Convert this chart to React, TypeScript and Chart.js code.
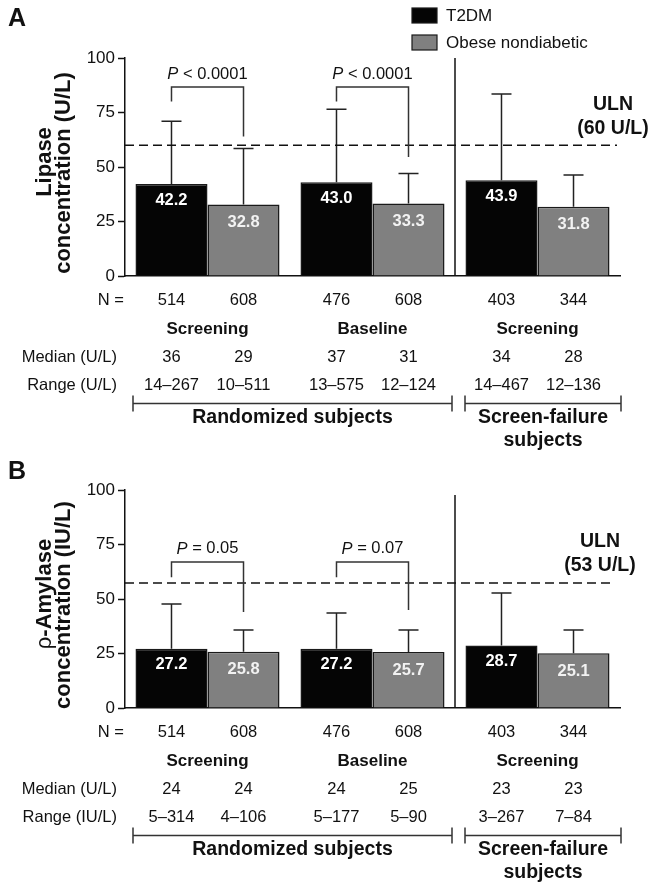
import React, { useEffect, useRef } from 'react';
import { Chart, registerables } from 'chart.js';

Chart.register(...registerables);

// ---------- shared data ----------
const categories = ['Screening', 'Baseline', 'Screening'];
const seriesNames = ['T2DM', 'Obese nondiabetic'];
const groupLabels = [['Randomized subjects'], ['Screen-failure', 'subjects']];
const nValues = ['514', '608', '476', '608', '403', '344'];

// ---------- panel A: lipase ----------
const lipaseT2DM = [42.2, 43.0, 43.9];
const lipaseObese = [32.8, 33.3, 31.8];
const lipaseT2DMErrTop = [71.0, 76.5, 83.5];
const lipaseObeseErrTop = [58.5, 47.0, 46.3];
const lipaseULN = 60;
const lipaseULNLabel = ['ULN', '(60 U/L)'];
const lipasePTexts = ['< 0.0001', '< 0.0001'];
const lipaseBracketTop = [86.7, 86.7];
const lipaseBracketLeftEnd = [80, 80];
const lipaseBracketRightEnd = [64, 54.6];
const lipaseMedian = ['36', '29', '37', '31', '34', '28'];
const lipaseRange = ['14–267', '10–511', '13–575', '12–124', '14–467', '12–136'];

// ---------- panel B: p-amylase ----------
const amylaseT2DM = [27.2, 27.2, 28.7];
const amylaseObese = [25.8, 25.7, 25.1];
const amylaseT2DMErrTop = [47.7, 43.6, 52.8];
const amylaseObeseErrTop = [35.8, 35.8, 35.8];
const amylaseULN = 57.3;
const amylaseULNLabel = ['ULN', '(53 U/L)'];
const amylasePTexts = ['= 0.05', '= 0.07'];
const amylaseBracketTop = [67, 67];
const amylaseBracketLeftEnd = [60, 60];
const amylaseBracketRightEnd = [44, 45];
const amylaseMedian = ['24', '24', '24', '25', '23', '23'];
const amylaseRange = ['5–314', '4–106', '5–177', '5–90', '3–267', '7–84'];

const FONT = '"Liberation Sans", Arial, Helvetica, sans-serif';
const INK = '#111111';
const BLACK_BAR = '#050505';
const GRAY_BAR = '#808080';
const BAR_EDGE = '#1a1a1a';

type Panel = {
  letter: string;
  titleLines: { parts: { text: string; bold: boolean }[] }[];
  t2dm: number[];
  obese: number[];
  t2dmErr: number[];
  obeseErr: number[];
  uln: number;
  ulnLabel: string[];
  ulnLabelX: number;
  ulnEndX: number;
  pTexts: string[];
  bTop: number[];
  bLeft: number[];
  bRight: number[];
  median: string[];
  range: string[];
  rangeLabel: string;
  legend: boolean;
  height: number;
  padTop: number;
  padBottom: number;
  letterY: number;
  sepTopValue: number;
};

const panels: Panel[] = [
  {
    letter: 'A',
    titleLines: [
      { parts: [{ text: 'Lipase', bold: true }] },
      { parts: [{ text: 'concentration (U/L)', bold: true }] },
    ],
    t2dm: lipaseT2DM,
    obese: lipaseObese,
    t2dmErr: lipaseT2DMErrTop,
    obeseErr: lipaseObeseErrTop,
    uln: lipaseULN,
    ulnLabel: lipaseULNLabel,
    ulnLabelX: 613,
    ulnEndX: 617,
    pTexts: lipasePTexts,
    bTop: lipaseBracketTop,
    bLeft: lipaseBracketLeftEnd,
    bRight: lipaseBracketRightEnd,
    median: lipaseMedian,
    range: lipaseRange,
    rangeLabel: 'Range (U/L)',
    legend: true,
    height: 450,
    padTop: 58,
    padBottom: 174,
    letterY: 19,
    sepTopValue: 100,
  },
  {
    letter: 'B',
    titleLines: [
      { parts: [{ text: 'ρ', bold: false }, { text: '-Amylase', bold: true }] },
      { parts: [{ text: 'concentration (IU/L)', bold: true }] },
    ],
    t2dm: amylaseT2DM,
    obese: amylaseObese,
    t2dmErr: amylaseT2DMErrTop,
    obeseErr: amylaseObeseErrTop,
    uln: amylaseULN,
    ulnLabel: amylaseULNLabel,
    ulnLabelX: 600,
    ulnEndX: 612,
    pTexts: amylasePTexts,
    bTop: amylaseBracketTop,
    bLeft: amylaseBracketLeftEnd,
    bRight: amylaseBracketRightEnd,
    median: amylaseMedian,
    range: amylaseRange,
    rangeLabel: 'Range (IU/L)',
    legend: false,
    height: 442,
    padTop: 40,
    padBottom: 184,
    letterY: 22,
    sepTopValue: 97.7,
  },
];

function font(size: number, bold = false, italic = false) {
  return `${italic ? 'italic ' : ''}${bold ? 'bold ' : ''}${size}px ${FONT}`;
}

function makePlugin(p: Panel) {
  return {
    id: 'customDecor' + p.letter,
    afterDatasetsDraw(chart: any) {
      const ctx = chart.ctx as CanvasRenderingContext2D;
      const y = chart.scales.y;
      const errs = [p.t2dmErr, p.obeseErr];
      ctx.save();
      ctx.strokeStyle = '#222';
      ctx.lineWidth = 1.5;
      for (let d = 0; d < 2; d++) {
        const meta = chart.getDatasetMeta(d);
        meta.data.forEach((el: any, i: number) => {
          const yt = y.getPixelForValue(errs[d][i]);
          ctx.beginPath();
          ctx.moveTo(el.x, el.y);
          ctx.lineTo(el.x, yt);
          ctx.moveTo(el.x - 10, yt);
          ctx.lineTo(el.x + 10, yt);
          ctx.stroke();
        });
      }
      // bar value labels
      ctx.fillStyle = '#ffffff';
      ctx.font = font(16.5, true);
      ctx.textAlign = 'center';
      ctx.textBaseline = 'middle';
      for (let d = 0; d < 2; d++) {
        const meta = chart.getDatasetMeta(d);
        const vals = d === 0 ? p.t2dm : p.obese;
        meta.data.forEach((el: any, i: number) => {
          ctx.fillStyle = d === 0 ? '#ffffff' : '#f2f2f2';
          ctx.fillText(vals[i].toFixed(1), el.x, el.y + (d === 0 ? 16 : 18));
        });
      }
      ctx.restore();
    },
    afterDraw(chart: any) {
      const ctx = chart.ctx as CanvasRenderingContext2D;
      const area = chart.chartArea;
      const y = chart.scales.y;
      const x = chart.scales.x;
      const m0 = chart.getDatasetMeta(0).data;
      const m1 = chart.getDatasetMeta(1).data;
      const xs = [m0[0].x, m1[0].x, m0[1].x, m1[1].x, m0[2].x, m1[2].x];
      const sepX = (x.getPixelForTick(1) + x.getPixelForTick(2)) / 2;
      ctx.save();
      ctx.fillStyle = INK;
      ctx.strokeStyle = INK;

      // panel letter
      ctx.font = font(25, true);
      ctx.textAlign = 'left';
      ctx.textBaseline = 'middle';
      ctx.fillText(p.letter, 8, p.letterY);

      // y-axis title (rotated, two lines)
      const midY = (area.top + area.bottom) / 2;
      const lineX = [45, 64];
      const lineOff = [-5, 6];
      p.titleLines.forEach((ln, li) => {
        ctx.save();
        ctx.translate(lineX[li], midY + lineOff[li]);
        ctx.rotate(-Math.PI / 2);
        let total = 0;
        const widths = ln.parts.map((pt) => {
          ctx.font = font(22, pt.bold);
          const w = ctx.measureText(pt.text).width;
          total += w;
          return w;
        });
        let cx = -total / 2;
        ctx.textAlign = 'left';
        ctx.textBaseline = 'middle';
        ln.parts.forEach((pt, k) => {
          ctx.font = font(22, pt.bold);
          ctx.fillText(pt.text, cx, 0);
          cx += widths[k];
        });
        ctx.restore();
      });

      // legend
      if (p.legend) {
        const items = [
          { c: BLACK_BAR, t: seriesNames[0], y0: 8 },
          { c: GRAY_BAR, t: seriesNames[1], y0: 35 },
        ];
        items.forEach((it) => {
          ctx.fillStyle = it.c;
          ctx.fillRect(412, it.y0, 25, 15);
          ctx.lineWidth = 1.2;
          ctx.strokeStyle = BAR_EDGE;
          ctx.strokeRect(412, it.y0, 25, 15);
          ctx.fillStyle = INK;
          ctx.font = font(17);
          ctx.textAlign = 'left';
          ctx.textBaseline = 'middle';
          ctx.fillText(it.t, 446, it.y0 + 8);
        });
      }

      // vertical separator
      ctx.strokeStyle = INK;
      ctx.lineWidth = 1.5;
      ctx.beginPath();
      ctx.moveTo(sepX, y.getPixelForValue(p.sepTopValue));
      ctx.lineTo(sepX, area.bottom);
      ctx.stroke();

      // ULN dashed line
      const uy = y.getPixelForValue(p.uln);
      ctx.setLineDash([9, 5]);
      ctx.beginPath();
      ctx.moveTo(area.left, uy);
      ctx.lineTo(p.ulnEndX, uy);
      ctx.stroke();
      ctx.setLineDash([]);

      // ULN label
      ctx.font = font(19.5, true);
      ctx.textAlign = 'center';
      ctx.textBaseline = 'middle';
      ctx.fillStyle = INK;
      ctx.fillText(p.ulnLabel[0], p.ulnLabelX, uy - 41);
      ctx.fillText(p.ulnLabel[1], p.ulnLabelX, uy - 17);

      // significance brackets
      ctx.strokeStyle = '#333';
      ctx.lineWidth = 1.5;
      for (let i = 0; i < p.pTexts.length; i++) {
        const xl = m0[i].x;
        const xr = m1[i].x;
        const yt = y.getPixelForValue(p.bTop[i]);
        ctx.beginPath();
        ctx.moveTo(xl, y.getPixelForValue(p.bLeft[i]));
        ctx.lineTo(xl, yt);
        ctx.lineTo(xr, yt);
        ctx.lineTo(xr, y.getPixelForValue(p.bRight[i]));
        ctx.stroke();
        // P text
        ctx.font = font(16.5, false, true);
        const w1 = ctx.measureText('P').width;
        ctx.font = font(16.5);
        const rest = ' ' + p.pTexts[i];
        const w2 = ctx.measureText(rest).width;
        const sx = (xl + xr) / 2 - (w1 + w2) / 2;
        const ty = yt - 13;
        ctx.textAlign = 'left';
        ctx.textBaseline = 'middle';
        ctx.fillStyle = INK;
        ctx.font = font(16.5, false, true);
        ctx.fillText('P', sx, ty);
        ctx.font = font(16.5);
        ctx.fillText(rest, sx + w1, ty);
      }

      // table below the axis
      const b = area.bottom;
      ctx.fillStyle = INK;
      ctx.textBaseline = 'middle';
      ctx.font = font(16.5);
      ctx.textAlign = 'right';
      ctx.fillText('N =', 124, b + 24);
      ctx.fillText('Median (U/L)', 117, b + 81);
      ctx.fillText(p.rangeLabel, 117, b + 109);
      ctx.textAlign = 'center';
      xs.forEach((xx, i) => {
        ctx.fillText(nValues[i], xx, b + 24);
        ctx.fillText(p.median[i], xx, b + 81);
        ctx.fillText(p.range[i], xx, b + 109);
      });
      ctx.font = font(17, true);
      categories.forEach((c, i) => {
        ctx.fillText(c, x.getPixelForTick(i), b + 53);
      });

      // group brackets
      const by = b + 127.5;
      const groups = [
        [area.left + 8, sepX - 3],
        [sepX + 10, area.right + 1],
      ];
      ctx.strokeStyle = '#333';
      ctx.lineWidth = 1.5;
      groups.forEach(([g0, g1], gi) => {
        ctx.beginPath();
        ctx.moveTo(g0, by);
        ctx.lineTo(g1, by);
        ctx.moveTo(g0, by - 8);
        ctx.lineTo(g0, by + 8);
        ctx.moveTo(g1, by - 8);
        ctx.lineTo(g1, by + 8);
        ctx.stroke();
        ctx.font = font(19.5, true);
        ctx.fillStyle = INK;
        ctx.textAlign = 'center';
        groupLabels[gi].forEach((t, k) => {
          ctx.fillText(t, (g0 + g1) / 2, b + 142 + k * 23);
        });
      });
      ctx.restore();
    },
  };
}

function PanelChart({ p, top }: { p: Panel; top: number }) {
  const ref = useRef<HTMLCanvasElement | null>(null);
  useEffect(() => {
    if (!ref.current) return;
    const chart = new Chart(ref.current, {
      type: 'bar',
      data: {
        labels: categories,
        datasets: [
          {
            label: seriesNames[0],
            data: p.t2dm,
            backgroundColor: BLACK_BAR,
            borderColor: BAR_EDGE,
            borderWidth: 1.5,
            categoryPercentage: 0.873,
            barPercentage: 1,
          },
          {
            label: seriesNames[1],
            data: p.obese,
            backgroundColor: GRAY_BAR,
            borderColor: BAR_EDGE,
            borderWidth: 1.5,
            categoryPercentage: 0.873,
            barPercentage: 1,
          },
        ],
      },
      options: {
        responsive: false,
        animation: false,
        devicePixelRatio: 1,
        layout: { padding: { left: 0, right: 37, top: p.padTop, bottom: p.padBottom } },
        plugins: {
          legend: { display: false },
          tooltip: { enabled: false },
          title: { display: false },
        },
        scales: {
          x: {
            type: 'category',
            offset: true,
            grid: { display: false, drawTicks: false },
            border: { display: true, color: INK, width: 1.5 },
            ticks: { display: false },
            afterFit: (s: any) => {
              s.height = 0;
            },
          },
          y: {
            min: 0,
            max: 100,
            ticks: { stepSize: 25, color: INK, font: { family: FONT, size: 17 }, padding: 3 },
            grid: { drawOnChartArea: false, drawTicks: true, tickLength: 7, tickColor: INK, tickWidth: 1.5 },
            border: { display: true, color: INK, width: 1.5 },
            afterFit: (s: any) => {
              s.width = 125;
            },
          },
        },
      } as any,
      plugins: [makePlugin(p)],
    });
    return () => chart.destroy();
  }, [p]);
  return (
    <canvas
      ref={ref}
      width={657}
      height={p.height}
      style={{ position: 'absolute', left: 0, top, width: 657, height: p.height, display: 'block' }}
    />
  );
}

export default function App() {
  return (
    <div style={{ position: 'absolute', left: 0, top: 0, width: 657, height: 892, background: '#fff' }}>
      <PanelChart p={panels[0]} top={0} />
      <PanelChart p={panels[1]} top={450} />
    </div>
  );
}
